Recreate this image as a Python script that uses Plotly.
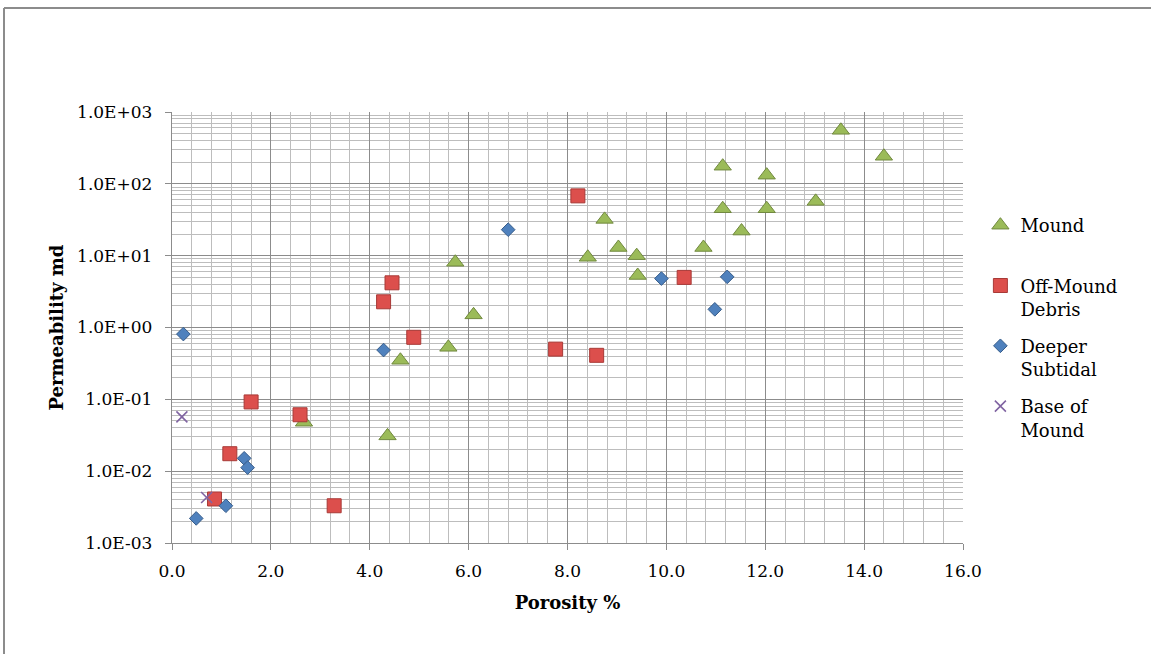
import plotly.graph_objects as go

# ---- data (porosity %, permeability md) ----
mound_x = [13.53, 14.40, 11.14, 12.03, 11.14, 12.03, 13.02, 11.52, 8.75, 9.03, 10.75,
           9.40, 9.42, 8.41, 5.73, 6.10, 5.59, 4.62, 2.67, 4.36]
mound_y = [556, 242, 176, 132, 45, 45, 57, 22, 32, 13, 13,
           10, 5.3, 9.5, 8.1, 1.5, 0.53, 0.35, 0.048, 0.031]

debris_x = [8.21, 10.36, 4.89, 7.76, 8.59, 4.45, 4.28, 1.60, 2.59, 1.17, 0.86, 3.28]
debris_y = [68, 4.98, 0.73, 0.50, 0.41, 4.19, 2.28, 0.092, 0.061, 0.0175, 0.0041, 0.0033]

deeper_x = [0.23, 6.80, 9.90, 11.23, 10.98, 4.28, 1.46, 1.53, 1.09, 0.49]
deeper_y = [0.81, 23, 4.8, 5.07, 1.79, 0.485, 0.0151, 0.0112, 0.0033, 0.0022]

base_x = [0.20, 0.70]
base_y = [0.057, 0.0043]

x_ticks = [0, 2, 4, 6, 8, 10, 12, 14, 16]
x_ticktext = ["0.0", "2.0", "4.0", "6.0", "8.0", "10.0", "12.0", "14.0", "16.0"]
y_ticks = [1e-3, 1e-2, 1e-1, 1e0, 1e1, 1e2, 1e3]
y_ticktext = ["1.0E-03", "1.0E-02", "1.0E-01", "1.0E+00", "1.0E+01", "1.0E+02", "1.0E+03"]

FONT = "DejaVu Serif"
W, H = 1151, 654
ML, MR, MT, MB = 172, 188, 112, 111

minor_x = [i * 0.4 for i in range(41) if i % 5 != 0]
minor_y = [k * 10 ** e for e in range(-3, 3) for k in range(2, 10)]

fig = go.Figure()
fig.add_trace(go.Scatter(
    x=mound_x, y=mound_y, mode="markers", name="Mound<br> ",
    marker=dict(symbol="triangle-up", size=15, color="#9BBB59",
                line=dict(color="#71893F", width=1)),
    legendgroup="a"))
fig.add_trace(go.Scatter(
    x=debris_x, y=debris_y, mode="markers", name="Off-Mound<br>Debris",
    marker=dict(symbol="square", size=14, color="#DC4F4C",
                line=dict(color="#A83A37", width=1)),
    legendgroup="b"))
fig.add_trace(go.Scatter(
    x=deeper_x, y=deeper_y, mode="markers", name="Deeper<br>Subtidal",
    marker=dict(symbol="diamond", size=10.5, color="#4F81BD",
                line=dict(color="#385D8A", width=1)),
    legendgroup="c"))
fig.add_trace(go.Scatter(
    x=base_x, y=base_y, mode="markers", name="Base of<br>Mound",
    marker=dict(symbol="x-thin-open", size=11, color="#8064A2",
                line=dict(color="#8064A2", width=1.6)),
    legendgroup="d"))

def px_to_paper_x(px):
    return (px - ML) / (W - ML - MR)

def px_to_paper_y(py):
    return 1 - (py - MT) / (H - MT - MB)

fig.update_layout(
    width=W, height=H,
    margin=dict(l=ML, r=MR, t=MT, b=MB),
    paper_bgcolor="white", plot_bgcolor="white",
    font=dict(family=FONT, size=17, color="black"),
    showlegend=True,
    legend=dict(x=1.022, xanchor="left", y=px_to_paper_y(207), yanchor="top",
                valign="top", tracegroupgap=10.5,
                font=dict(family=FONT, size=18, color="black"),
                bgcolor="rgba(0,0,0,0)"),
    xaxis=dict(range=[0, 16], tickvals=x_ticks, ticktext=x_ticktext,
               showgrid=True, gridcolor="#8C8C8C", gridwidth=1.4,
               minor=dict(tickvals=minor_x, showgrid=True, gridcolor="#BDBDBD", gridwidth=1.4),
               showline=True, linecolor="#8C8C8C", linewidth=1.4,
               ticks="outside", ticklen=6, tickcolor="#8C8C8C",
               ticklabelstandoff=6, zeroline=False,
               title=dict(text="<b>Porosity %</b>", font=dict(family=FONT, size=18), standoff=16)),
    yaxis=dict(type="log", range=[-3, 3], tickvals=y_ticks, ticktext=y_ticktext,
               showgrid=True, gridcolor="#8C8C8C", gridwidth=1.4,
               minor=dict(tickvals=minor_y, showgrid=True, gridcolor="#BDBDBD", gridwidth=1.4),
               showline=True, linecolor="#8C8C8C", linewidth=1.4,
               ticks="outside", ticklen=6, tickcolor="#8C8C8C",
               ticklabelstandoff=9, zeroline=False,
               title=dict(text="<b>Permeability md</b>", font=dict(family=FONT, size=18), standoff=8)),
    shapes=[
        dict(type="line", xref="paper", yref="paper",
             x0=px_to_paper_x(4), x1=px_to_paper_x(1152),
             y0=px_to_paper_y(8), y1=px_to_paper_y(8),
             line=dict(color="#8C8C8C", width=2)),
        dict(type="line", xref="paper", yref="paper",
             x0=px_to_paper_x(4), x1=px_to_paper_x(4),
             y0=px_to_paper_y(8), y1=px_to_paper_y(660),
             line=dict(color="#8C8C8C", width=2)),
    ],
)

fig.write_html("out.html")
